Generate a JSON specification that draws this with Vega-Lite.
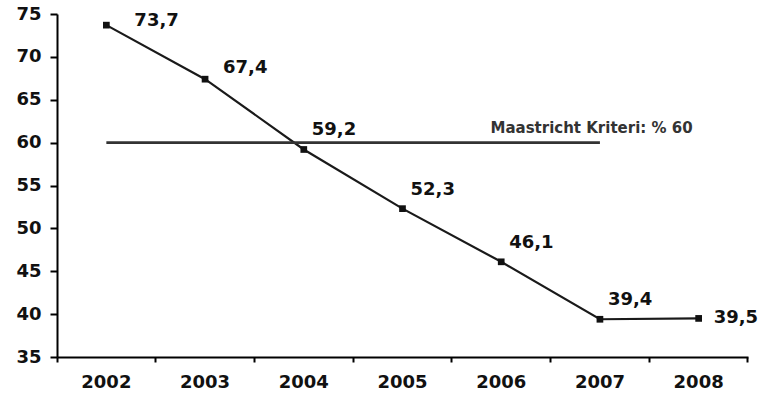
{
  "$schema": "https://vega.github.io/schema/vega-lite/v6.json",
  "width": 691,
  "height": 343,
  "autosize": {"type": "none"},
  "padding": {"left": 57, "top": 14, "right": 13, "bottom": 41},
  "background": "white",
  "config": {
    "view": {"stroke": null},
    "font": "DejaVu Sans",
    "locale": {"number": {"decimal": ",", "thousands": ".", "grouping": [3], "currency": ["", " €"]}}
  },
  "datasets": {
    "debt": [
      {"year": "2002", "value": 73.7},
      {"year": "2003", "value": 67.4},
      {"year": "2004", "value": 59.2},
      {"year": "2005", "value": 52.3},
      {"year": "2006", "value": 46.1},
      {"year": "2007", "value": 39.4},
      {"year": "2008", "value": 39.5}
    ],
    "criterion": [
      {"from": "2002", "to": "2007", "labelAt": "2008", "value": 60, "label": "Maastricht Kriteri: % 60"}
    ]
  },
  "layer": [
    {
      "data": {"name": "debt"},
      "mark": {"type": "line", "color": "#1a1a1a", "strokeWidth": 2.2},
      "encoding": {
        "x": {
          "field": "year", "type": "nominal", "sort": null, "title": null,
          "scale": {"type": "band", "paddingInner": 0, "paddingOuter": 0},
          "axis": {
            "title": null, "labelAngle": 0, "bandPosition": 1, "tickExtra": true,
            "domainColor": "#000000", "domainWidth": 2, "tickColor": "#000000", "tickWidth": 2, "tickSize": 5,
            "labelFont": "DejaVu Sans", "labelFontWeight": "bold", "labelFontSize": 18, "labelColor": "#111111", "labelPadding": 11, "grid": false
          }
        },
        "y": {
          "field": "value", "type": "quantitative", "title": null,
          "scale": {"domain": [35, 75], "nice": false, "zero": false},
          "axis": {
            "title": null, "values": [35, 40, 45, 50, 55, 60, 65, 70, 75],
            "domainColor": "#000000", "domainWidth": 2, "tickColor": "#000000", "tickWidth": 2, "tickSize": 7,
            "labelFont": "DejaVu Sans", "labelFontWeight": "bold", "labelFontSize": 18, "labelColor": "#111111", "labelPadding": 9, "grid": false
          }
        }
      }
    },
    {
      "data": {"name": "criterion"},
      "mark": {"type": "rule", "color": "#333333", "strokeWidth": 2.6},
      "encoding": {
        "x": {"field": "from", "type": "nominal", "title": null},
        "x2": {"field": "to"},
        "y": {"field": "value", "type": "quantitative", "title": null}
      }
    },
    {
      "data": {"name": "criterion"},
      "mark": {"type": "text", "align": "right", "baseline": "middle", "dx": -6, "dy": -15, "font": "DejaVu Sans", "fontWeight": "bold", "fontSize": 15, "color": "#333333"},
      "encoding": {
        "x": {"field": "labelAt", "type": "nominal", "title": null},
        "y": {"field": "value", "type": "quantitative", "title": null},
        "text": {"field": "label"}
      }
    },
    {
      "data": {"name": "debt"},
      "mark": {"type": "point", "shape": "square", "filled": true, "size": 45, "color": "#111111", "opacity": 1},
      "encoding": {
        "x": {"field": "year", "type": "nominal", "sort": null, "title": null},
        "y": {"field": "value", "type": "quantitative", "title": null}
      }
    },
    {
      "data": {"name": "debt"},
      "transform": [{"filter": "datum.year === '2002'"}],
      "mark": {"type": "text", "align": "left", "baseline": "middle", "dx": 28, "dy": -4, "font": "DejaVu Sans", "fontWeight": "bold", "fontSize": 18, "color": "#111111"},
      "encoding": {
        "x": {"field": "year", "type": "nominal", "sort": null, "title": null},
        "y": {"field": "value", "type": "quantitative", "title": null},
        "text": {"field": "value", "type": "quantitative", "format": ".1f"}
      }
    },
    {
      "data": {"name": "debt"},
      "transform": [{"filter": "datum.year === '2003'"}],
      "mark": {"type": "text", "align": "left", "baseline": "middle", "dx": 18, "dy": -11, "font": "DejaVu Sans", "fontWeight": "bold", "fontSize": 18, "color": "#111111"},
      "encoding": {
        "x": {"field": "year", "type": "nominal", "sort": null, "title": null},
        "y": {"field": "value", "type": "quantitative", "title": null},
        "text": {"field": "value", "type": "quantitative", "format": ".1f"}
      }
    },
    {
      "data": {"name": "debt"},
      "transform": [{"filter": "datum.year >= '2004' && datum.year <= '2007'"}],
      "mark": {"type": "text", "align": "left", "baseline": "middle", "dx": 8, "dy": -19, "font": "DejaVu Sans", "fontWeight": "bold", "fontSize": 18, "color": "#111111"},
      "encoding": {
        "x": {"field": "year", "type": "nominal", "sort": null, "title": null},
        "y": {"field": "value", "type": "quantitative", "title": null},
        "text": {"field": "value", "type": "quantitative", "format": ".1f"}
      }
    },
    {
      "data": {"name": "debt"},
      "transform": [{"filter": "datum.year === '2008'"}],
      "mark": {"type": "text", "align": "left", "baseline": "middle", "dx": 15, "dy": 0, "font": "DejaVu Sans", "fontWeight": "bold", "fontSize": 18, "color": "#111111"},
      "encoding": {
        "x": {"field": "year", "type": "nominal", "sort": null, "title": null},
        "y": {"field": "value", "type": "quantitative", "title": null},
        "text": {"field": "value", "type": "quantitative", "format": ".1f"}
      }
    }
  ]
}
